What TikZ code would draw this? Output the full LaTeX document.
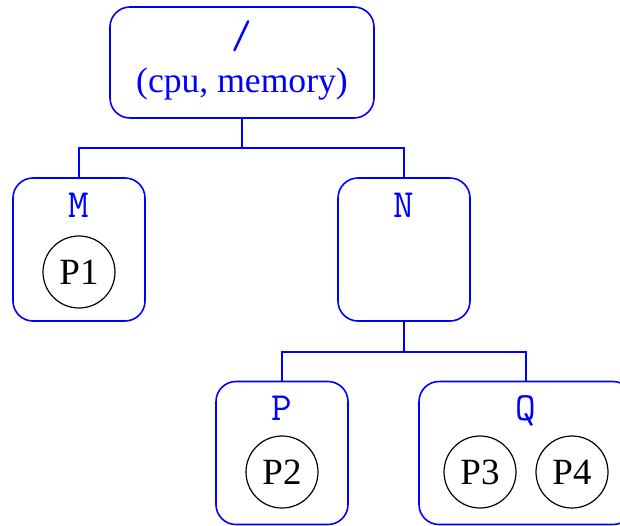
\documentclass[tikz,border=0pt]{standalone}
\usepackage{fontspec}
\setmainfont{Liberation Serif}
\usetikzlibrary{positioning}

\tikzset{
  dirbox/.style={draw=blue, rounded corners=10pt, line width=0.8pt, minimum width=66pt, minimum height=71.5pt, inner sep=0pt},
  proc/.style={draw, circle, line width=0.6pt, minimum size=36pt, inner sep=0pt, font=\fontsize{18.5}{21}\selectfont},
  dirname/.style={text=blue, anchor=base, font=\fontsize{20}{22}\selectfont\ttfamily},
  tree/.style={draw=blue, line width=0.8pt},
}

\begin{document}
\begin{tikzpicture}[x=0.5pt, y=-0.5pt]
        \useasboundingbox (0,0) rectangle (620,525);

        % boxes
        \node[dirbox, minimum width=132pt, minimum height=55.5pt] (root) at (242,62.5) {};
        \node[dirbox] (M) at (79,249.5) {};
        \node[dirbox] (N) at (404,249.5) {};
        \node[dirbox] (P) at (282,453) {};
        \node[dirbox, minimum width=107pt] (Q) at (526,453) {};

        % names
        \node[dirname] (rootname) at (242,48) {/};
        \node[anchor=base, text=blue, font=\fontsize{17.8}{20}\selectfont] (rootres) at (242,92) {(cpu, memory)};
        \node[dirname] (Mname) at (79,217) {M};
        \node[dirname] (Nname) at (404,217) {N};
        \node[dirname] (Pname) at (282,420) {P};
        \node[dirname] (Qname) at (526,420) {Q};

        % processes
        \node[proc] (P1) at (79,272) {P1};
        \node[proc] (P2) at (282,472) {P2};
        \node[proc] (P3) at (480,472) {P3};
        \node[proc] (P4) at (572,472) {P4};

        % tree lines
        \coordinate (rootfork) at (242,148);
        \coordinate (Nfork) at (404,352);
        \draw[tree] (root.south) -- (rootfork);
        \draw[tree] (M.north) |- (rootfork) -| (N.north);
        \draw[tree] (N.south) -- (Nfork);
        \draw[tree] (P.north) |- (Nfork) -| (Q.north);
\end{tikzpicture}
\end{document}
